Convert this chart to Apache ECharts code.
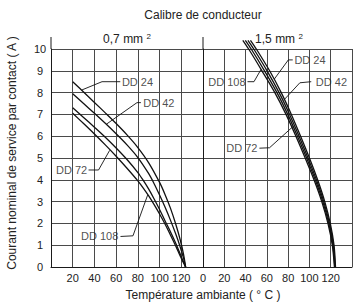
<!DOCTYPE html>
<html><head><meta charset="utf-8">
<script src="https://cdn.jsdelivr.net/npm/echarts@6/dist/echarts.min.js"></script>
<style>html,body{margin:0;padding:0;background:#fff}#c{width:355px;height:306px}</style>
</head><body><div id="c"></div>
<script>
// ---- data ----
const curveNames = ['DD 24', 'DD 42', 'DD 72', 'DD 108'];
const xTicks = [0, 20, 40, 60, 80, 100, 120, 140];
const yTicks = [0, 1, 2, 3, 4, 5, 6, 7, 8, 9, 10];
// 0,7 mm2 panel : [temperature, current]
const thin24 = [[20,8.5],[30,8.03],[40,7.55],[50,7.07],[60,6.58],[70,6.06],[80,5.48],[90,4.78],[100,3.88],[105,3.33],[110,2.7],[115,1.95],[119,1.25],[122,0.6],[124,0]];
const thin42 = [[20,7.95],[30,7.5],[40,7.05],[50,6.59],[60,6.11],[70,5.6],[80,5.02],[90,4.28],[95,3.82],[100,3.3],[105,2.75],[110,2.15],[115,1.5],[119,0.92],[122,0.42],[124,0]];
const thin72 = [[20,7.3],[30,6.86],[40,6.41],[50,5.95],[60,5.46],[70,4.93],[80,4.33],[85,3.97],[90,3.57],[95,3.12],[100,2.64],[105,2.12],[110,1.62],[115,1.08],[118,0.72],[121,0.35],[124,0]];
const thin108 = [[20,7.05],[30,6.58],[40,6.1],[50,5.6],[60,5.08],[70,4.53],[80,3.95],[85,3.62],[90,3.26],[95,2.86],[100,2.43],[105,1.97],[110,1.47],[115,0.95],[119,0.5],[122,0.2],[124,0]];
// 1,5 mm2 panel
const thick24 = [[44.6,10.4],[50.1,10],[62.6,9],[73.5,8],[83,7],[91.7,6],[100,5],[107.7,4],[114.4,3],[119.6,2],[123.1,1],[124.5,0]];
const thick42 = [[42.2,10.4],[47.7,10],[60.2,9],[71.5,8],[81.35,7],[90.25,6],[98.65,5],[106.55,4],[113.45,3],[118.85,2],[122.55,1],[124.15,0]];
const thick72 = [[39.8,10.4],[45.3,10],[57.8,9],[69.5,8],[79.65,7],[88.75,6],[97.35,5],[105.45,4],[112.55,3],[118.15,2],[122.05,1],[123.85,0]];
const thick108 = [[37.4,10.4],[42.9,10],[55.4,9],[67.5,8],[78,7],[87.3,6],[96,5],[104.3,4],[111.6,3],[117.4,2],[121.5,1],[123.5,0]];
// leader lines and label anchors
const thinLeaders = [
  [[28.4,8.12],[47,8.5],[63.8,8.5]],
  [[51,6.55],[79.2,7.54],[82.8,7.54]],
  [[34.6,4.45],[43.8,4.45],[54,5.35]],
  [[64,1.4],[75.5,1.43],[89,3.3]]
];
const thinLabels = [[65.3,8.5,'right'],[85,7.54,'right'],[33.3,4.45,'left'],[62,1.4,'left']];
const thickLeaders = [
  [[67,8.62],[80.2,9.5],[84.3,9.5]],
  [[76,7.66],[91,8.45],[101.7,8.5]],
  [[53,5.45],[62.5,5.47],[84.5,6.44]],
  [[41.8,8.5],[47.9,8.5],[54.6,9.07]]
];
const thickLabels = [[85.9,9.5,'right'],[106,8.5,'right'],[51.2,5.45,'left'],[40,8.5,'left']];
const axisExtension = [[0,10],[0,10.55]];

// ---- chart ----
const ink = '#1a1a1a';
const gridCol = '#4a4a4a';
const font = 'Liberation Sans, Arial, Helvetica, sans-serif';
function xAx(g, hideZero) {
  return {
    gridIndex: g, type: 'value', min: xTicks[0], max: xTicks[xTicks.length-1], interval: 20,
    axisLine: {show: true, lineStyle: {color: ink, width: 1}},
    axisTick: {show: false},
    splitLine: {show: true, lineStyle: {color: gridCol, width: 1}},
    axisLabel: {fontSize: 11, color: '#222', fontFamily: font, margin: 5,
      formatter: v => (v === 140 || (hideZero && v === 0)) ? '' : String(v)}
  };
}
function yAx(g, labels) {
  return {
    gridIndex: g, type: 'value', min: yTicks[0], max: yTicks[yTicks.length-1], interval: 1,
    axisLine: {show: true, lineStyle: {color: ink, width: 1}},
    axisTick: {show: false},
    splitLine: {show: true, lineStyle: {color: gridCol, width: 1}},
    axisLabel: {show: labels, fontSize: 11, color: '#222', fontFamily: font, margin: 11, align: 'center'}
  };
}
const series = [];
function curve(data, g) {
  series.push({type: 'line', xAxisIndex: g, yAxisIndex: g, data: data, smooth: 0.3, symbol: 'none',
    clip: false, lineStyle: {color: '#111', width: 1.3}, silent: true, z: 3});
}
function leader(data, g) {
  series.push({type: 'line', xAxisIndex: g, yAxisIndex: g, data: data, symbol: 'none',
    clip: false, lineStyle: {color: '#111', width: 0.9}, silent: true, z: 4});
}
function labels(arr, g) {
  series.push({type: 'scatter', xAxisIndex: g, yAxisIndex: g, symbolSize: 0, silent: true, z: 5,
    data: arr.map((a, i) => ({name: curveNames[i], value: [a[0], a[1]],
      label: {show: true, position: a[2], distance: 0, formatter: '{b}', fontSize: 11,
        color: '#222', fontFamily: font}}))});
}
[thin24, thin42, thin72, thin108].forEach(d => curve(d, 0));
[thick24, thick42, thick72, thick108].forEach(d => curve(d, 1));
thinLeaders.forEach(d => leader(d, 0));
thickLeaders.forEach(d => leader(d, 1));
labels(thinLabels, 0);
labels(thickLabels, 1);
series.push({type: 'line', xAxisIndex: 0, yAxisIndex: 0, data: axisExtension, symbol: 'none', clip: false,
  lineStyle: {color: ink, width: 1}, silent: true});
series.push({type: 'line', xAxisIndex: 1, yAxisIndex: 1, data: axisExtension, symbol: 'none', clip: false,
  lineStyle: {color: ink, width: 1}, silent: true});

const chart = echarts.init(document.getElementById('c'), null, {renderer: 'svg'});
const sup = {fontSize: 8, verticalAlign: 'top', color: '#222', fontFamily: font, padding: [0, 0, 5, 0]};
chart.setOption({
  animation: false,
  backgroundColor: '#fff',
  grid: [
    {left: 51, top: 49, width: 152, height: 218},
    {left: 203, top: 49, width: 152, height: 218}
  ],
  xAxis: [xAx(0, true), xAx(1, false)],
  yAxis: [yAx(0, true), yAx(1, false)],
  series: series,
  graphic: [
    {type: 'text', x: 203, y: 15, style: {text: 'Calibre de conducteur', fontSize: 12, fill: '#222',
      fontFamily: font, align: 'center', verticalAlign: 'middle'}},
    {type: 'text', x: 127, y: 39, style: {text: '0,7 mm {sup|2}', fontSize: 12, fill: '#222',
      fontFamily: font, align: 'center', verticalAlign: 'middle', rich: {sup: sup}}},
    {type: 'text', x: 279, y: 39, style: {text: '1,5 mm {sup|2}', fontSize: 12, fill: '#222',
      fontFamily: font, align: 'center', verticalAlign: 'middle', rich: {sup: sup}}},
    {type: 'text', x: 203, y: 295, style: {text: 'Température ambiante ( ° C )', fontSize: 12, fill: '#222',
      fontFamily: font, align: 'center', verticalAlign: 'middle'}},
    {type: 'text', x: 12, y: 153, rotation: Math.PI / 2, style: {text: 'Courant nominal de service par contact ( A )',
      fontSize: 12, fill: '#222', fontFamily: font, align: 'center', verticalAlign: 'middle'}}
  ]
});
</script></body></html>
